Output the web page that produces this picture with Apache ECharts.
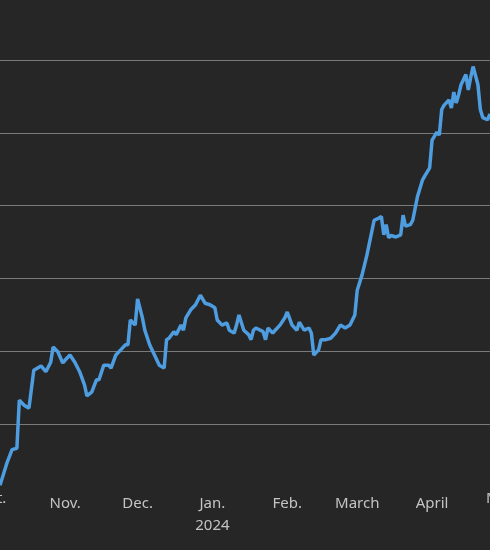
<!DOCTYPE html>
<html>
<head>
<meta charset="utf-8">
<script src="https://cdn.jsdelivr.net/npm/echarts@6/dist/echarts.min.js"></script>
<style>
  html, body { margin: 0; padding: 0; background: #262626; }
  #main { width: 490px; height: 550px; }
</style>
</head>
<body>
<div id="main"></div>
<script>
// daily closes
var dates = [
  '2023-10-05','2023-10-08','2023-10-10','2023-10-12','2023-10-13','2023-10-15','2023-10-17','2023-10-19',
  '2023-10-22','2023-10-24','2023-10-26','2023-10-27','2023-10-29','2023-10-31','2023-11-01','2023-11-03',
  '2023-11-05','2023-11-07','2023-11-09','2023-11-10','2023-11-12','2023-11-14','2023-11-15','2023-11-17',
  '2023-11-19','2023-11-20','2023-11-22','2023-11-24','2023-11-26','2023-11-27','2023-11-28','2023-11-30',
  '2023-12-01','2023-12-03','2023-12-04','2023-12-06','2023-12-08','2023-12-10','2023-12-12','2023-12-13',
  '2023-12-14','2023-12-16','2023-12-17','2023-12-19','2023-12-20','2023-12-21','2023-12-23','2023-12-25',
  '2023-12-27','2023-12-29','2023-12-31','2024-01-02','2024-01-03','2024-01-05','2024-01-07','2024-01-08',
  '2024-01-10','2024-01-11','2024-01-12','2024-01-14','2024-01-16','2024-01-17','2024-01-18','2024-01-19',
  '2024-01-22','2024-01-23','2024-01-24','2024-01-26','2024-01-27','2024-01-29','2024-01-31','2024-02-01',
  '2024-02-03','2024-02-05','2024-02-06','2024-02-08','2024-02-10','2024-02-11','2024-02-12','2024-02-14',
  '2024-02-15','2024-02-17','2024-02-19','2024-02-21','2024-02-23','2024-02-25','2024-02-27','2024-02-29',
  '2024-03-01','2024-03-03','2024-03-05','2024-03-07','2024-03-08','2024-03-10','2024-03-11','2024-03-12',
  '2024-03-13','2024-03-14','2024-03-15','2024-03-17','2024-03-19','2024-03-20','2024-03-21','2024-03-23',
  '2024-03-24','2024-03-26','2024-03-28','2024-03-29','2024-03-31','2024-04-01','2024-04-03','2024-04-04',
  '2024-04-05','2024-04-06','2024-04-08','2024-04-09','2024-04-10','2024-04-11','2024-04-12','2024-04-13',
  '2024-04-14','2024-04-15','2024-04-16','2024-04-17','2024-04-18','2024-04-20','2024-04-21','2024-04-22',
  '2024-04-24','2024-04-25'
];
var values = [
  1.6,4.8,6.5,6.7,13.3,12.6,12.2,17.4,
  18.0,17.2,18.5,20.6,19.9,18.4,18.8,19.5,
  18.5,17.2,15.4,13.9,14.4,16.1,16.1,18.1,
  18.1,17.7,19.5,20.2,20.9,20.9,24.3,23.6,
  27.2,24.6,22.9,20.9,19.5,18.1,17.7,21.6,
  21.8,22.7,22.3,23.6,22.9,24.6,25.7,26.4,
  27.7,26.6,26.4,26.0,24.3,23.6,23.9,22.9,
  22.5,23.6,25.0,22.9,22.3,21.6,22.9,23.2,
  22.7,21.6,23.2,22.5,22.9,23.6,24.6,25.4,
  23.6,22.9,24.0,22.9,23.2,22.5,19.5,20.2,
  21.6,21.6,21.8,22.5,23.6,23.2,23.6,25.0,
  28.4,30.5,33.2,36.4,38.0,38.3,38.5,36.0,
  37.4,35.6,35.9,35.7,36.0,38.7,37.2,37.4,
  38.0,41.3,43.5,44.1,45.2,49.0,50.1,49.7,
  53.2,53.8,54.5,53.4,55.6,54.1,55.2,56.6,
  57.3,58.0,55.9,57.6,59.1,56.6,53.2,52.1,
  51.8,52.6
];
var monthTicks = ['2023-11-01','2023-12-01','2024-01-01','2024-02-01','2024-03-01','2024-04-01'];
var monthNames = ['Jan.','Feb.','March','April','May','June','July','Aug.','Sept.','Oct.','Nov.','Dec.'];

function ts(d) { return Date.parse(d + 'T00:00:00Z'); }

var chart = echarts.init(document.getElementById('main'));
var FONT = '15px "Noto Sans"';

chart.setOption({
  backgroundColor: '#262626',
  animation: false,
  grid: { left: 0, right: 0, top: 60, bottom: 53 },
  xAxis: {
    type: 'value',
    min: ts('2023-10-05'),
    max: ts('2024-04-25'),
    axisLine: { show: false },
    axisTick: { show: false },
    splitLine: { show: false },
    axisLabel: {
      customValues: monthTicks.map(ts),
      color: '#c4c4c4',
      fontSize: 15,
      fontFamily: 'Noto Sans',
      margin: -4,
      lineHeight: 22,
      formatter: function (v) {
        var d = new Date(v);
        var s = monthNames[d.getUTCMonth()];
        return d.getUTCMonth() === 0 ? s + '\n' + d.getUTCFullYear() : s;
      }
    }
  },
  yAxis: {
    type: 'value',
    min: 0,
    max: 60,
    interval: 10,
    axisLine: { show: false },
    axisTick: { show: false },
    axisLabel: { show: false },
    splitLine: { lineStyle: { color: '#7a7a7a', width: 1 }, showMinLine: false }
  },
  graphic: [
    { type: 'text', left: -22, top: 491, style: { text: 'Oct.', fill: '#c4c4c4', font: FONT } },
    { type: 'text', left: 486, top: 491, style: { text: 'May', fill: '#c4c4c4', font: FONT } }
  ],
  series: [{
    type: 'line',
    data: dates.map(function (d, i) { return [ts(d), values[i]]; }),
    showSymbol: false,
    lineStyle: { color: '#4e9de0', width: 3.5 },
    itemStyle: { color: '#4e9de0' }
  }]
});
</script>
</body>
</html>
